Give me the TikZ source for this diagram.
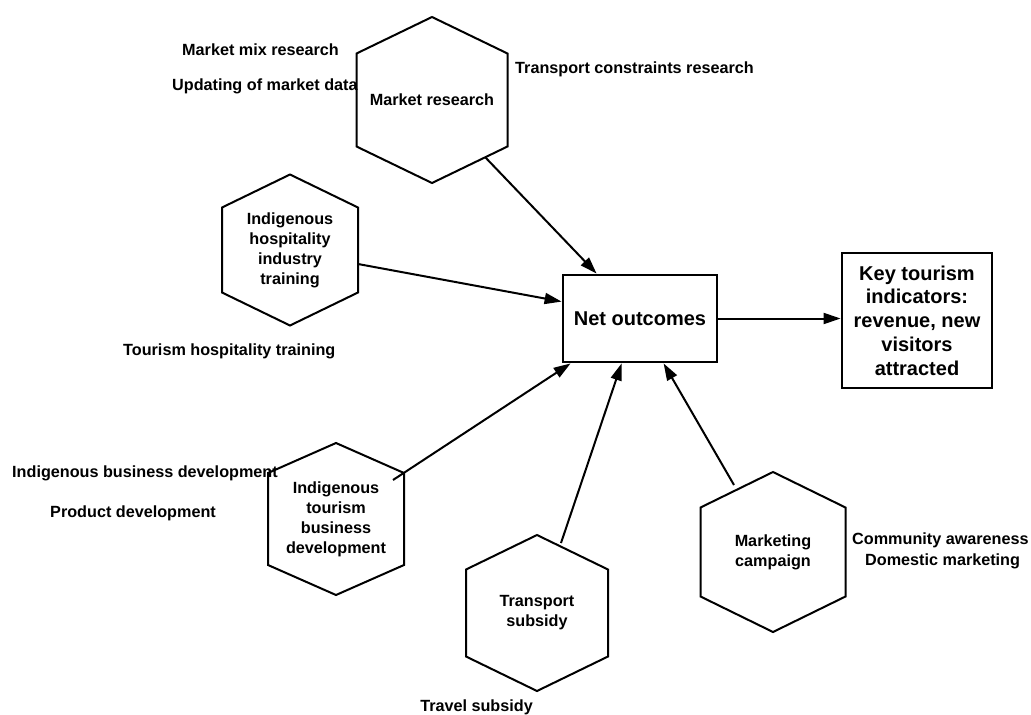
\documentclass[tikz,border=0pt]{standalone}
\usepackage{fontspec}
\setmainfont{Liberation Sans}
\usetikzlibrary{arrows.meta,calc}
\tikzset{
  hexline/.style={line width=2pt, line join=miter},
  hextext/.style={font=\bfseries\fontsize{16.2}{20}\selectfont, align=center, inner sep=0pt},
  lbl/.style={font=\bfseries\fontsize{16.2}{20}\selectfont, inner sep=0pt},
  boxnode/.style={draw, line width=2.8pt, fill=white, font=\bfseries\fontsize{20}{23.7}\selectfont, align=center, inner sep=0pt},
  link/.style={line width=2pt, -{Triangle[length=17pt,width=11pt]}}
}
\newcommand\hexnode[7]{%
  \draw[hexline] (#2-#4,#3-#5) -- (#2,#3-#6) -- (#2+#4,#3-#5) -- (#2+#4,#3+#5) -- (#2,#3+#6) -- (#2-#4,#3+#5) -- cycle;
  \node[hextext] (#1) at (#2,#3) {#7};}
\begin{document}
\begin{tikzpicture}[x=1pt,y=-1pt]
\useasboundingbox (0,0) rectangle (1031,715);

% hexagons
\hexnode{mr}{432}{100}{75.5}{46.5}{83}{Market research}
\hexnode{ih}{290}{250}{68}{42.5}{75.5}{Indigenous\\hospitality\\industry\\training}
\hexnode{it}{336}{519}{68}{46}{76}{Indigenous\\tourism\\business\\development}
\hexnode{ts}{537}{613}{71}{43.5}{78}{Transport\\subsidy}
\hexnode{mc}{773}{552}{72.5}{44.5}{80}{Marketing\\campaign}

% boxes
\node[boxnode, minimum width=154pt, minimum height=87pt] (net) at (640,318.5) {Net outcomes};
\node[boxnode, minimum width=150pt, minimum height=135pt] (key) at (917,320.5) {Key tourism\\indicators:\\revenue, new\\visitors\\attracted};

% labels
\node[lbl, anchor=base west] (l1) at (182,55) {Market mix research};
\node[lbl, anchor=base west] (l2) at (172,90) {Updating of market data};
\node[lbl, anchor=base west] (l3) at (515,73) {Transport constraints research};
\node[lbl, anchor=base west] (l4) at (123,355) {Tourism hospitality training};
\node[lbl, anchor=base west] (l5) at (12,477) {Indigenous business development};
\node[lbl, anchor=base west] (l6) at (50,517) {Product development};
\node[lbl, anchor=base east] (l7) at (533,711) {Travel subsidy};
\node[lbl, anchor=base west] (l8) at (852,544) {Community awareness};
\node[lbl, anchor=base west] (l9) at (865,565) {Domestic marketing};

% connector start points on the hexagons
\coordinate (smr) at (485,157);
\coordinate (sih) at (358,264);
\coordinate (sit) at (393,480);
\coordinate (sts) at (561,543);
\coordinate (smc) at (734,485);

% connectors
\draw[link] (smr) -- ($(net.north west)+(35,0)$);
\draw[link] (sih) -- ($(net.north west)+(0,28)$);
\draw[link] (sit) -- ($(net.south west)+(9,0)$);
\draw[link] (sts) -- ($(net.south west)+(60,0)$);
\draw[link] (smc) -- ($(net.south west)+(102,0)$);
\draw[link] (net.east) -- (net.east -| key.west);
\end{tikzpicture}
\end{document}
